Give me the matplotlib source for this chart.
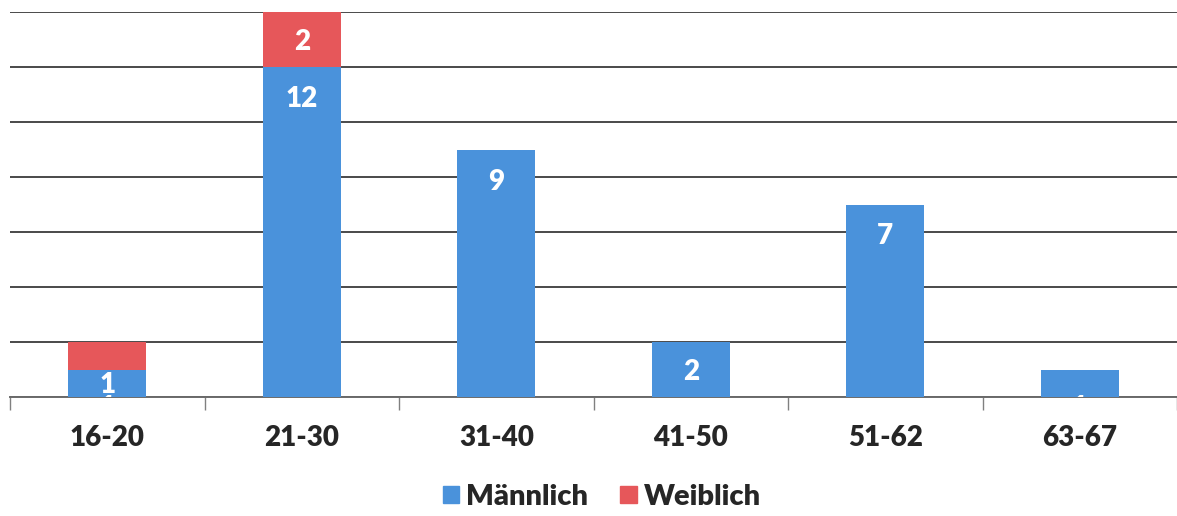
import matplotlib
matplotlib.use("Agg")
import matplotlib.pyplot as plt
from matplotlib.patches import Patch
import numpy as np

plt.rcParams['font.family'] = ['Lato', 'DejaVu Sans']

# Daten
kategorien = ["16-20", "21-30", "31-40", "41-50", "51-62", "63-67"]
maennlich = [1, 12, 9, 2, 7, 1]
weiblich = [1, 2, 0, 0, 0, 0]
# sichtbare Beschriftungen (leer = keine)
maennlich_labels = ["1", "12", "9", "2", "7", ""]
weiblich_labels = ["", "2", "", "", "", ""]
# abgeschnittene Beschriftungen am unteren Rand
rest_labels = ["1", "", "", "", "", "1"]

BLAU = "#4A92DB"
ROT = "#E6575A"

W, H = 1177, 516
fig = plt.figure(figsize=(W / 100, H / 100), dpi=100)
ax = fig.add_axes([10 / W, 119 / H, 1167 / W, 385 / H])

x = np.arange(len(kategorien))
px_per_unit = 385 / 14.0


def label_bars(bottoms, values, labels):
    for xi, b, v, t in zip(x, bottoms, values, labels):
        if not t:
            continue
        seg_px = v * px_per_unit
        off = min(32, seg_px / 2 + 2) / px_per_unit
        ax.text(xi, b + v - off, t, ha="center", va="center",
                color="white", fontsize=20, fontweight="heavy", zorder=4)


ax.bar(x, maennlich, width=0.4, color=BLAU, zorder=3)
ax.bar(x, weiblich, width=0.4, bottom=maennlich, color=ROT, zorder=3)
label_bars([0] * len(x), maennlich, maennlich_labels)
label_bars(maennlich, weiblich, weiblich_labels)

# halb verdeckte Beschriftungen an der Grundlinie
for xi, t in zip(x, rest_labels):
    if t:
        ax.text(xi, -0.4, t, ha="center", va="center", color="white",
                fontsize=20, fontweight="heavy", clip_on=True, zorder=4)

ax.set_ylim(0, 14)
ax.set_xlim(-0.5, -0.5 + 1167 / 195.3)
ax.set_yticks(np.arange(0, 15, 2))
ax.yaxis.grid(True, color="#4a4a4a", linewidth=1.4, zorder=0)
ax.set_axisbelow(True)
ax.tick_params(axis="y", left=False, labelleft=False)

ax.set_xticks(x)
ax.set_xticklabels(kategorien, fontsize=20, fontweight="heavy", color="#262626")
ax.set_xticks(np.arange(-0.5, 6, 1), minor=True)
ax.tick_params(axis="x", which="major", length=0, pad=20)
ax.tick_params(axis="x", which="minor", length=9, width=1, color="#808080")

for s in ["top", "right", "left"]:
    ax.spines[s].set_visible(False)
ax.spines["bottom"].set_color("#6a6a6a")
ax.spines["bottom"].set_linewidth(1.4)

handles = [Patch(color=BLAU, label="Männlich"), Patch(color=ROT, label="Weiblich")]
leg = fig.legend(handles=handles, loc="center", bbox_to_anchor=(602 / W, 19 / H),
                 ncol=2, frameon=False, handlelength=0.55, handleheight=0.55,
                 handletextpad=0.25, columnspacing=1.1,
                 prop={"size": 21, "weight": "heavy"})
for t in leg.get_texts():
    t.set_color("#262626")

fig.savefig("out.png", dpi=100)
